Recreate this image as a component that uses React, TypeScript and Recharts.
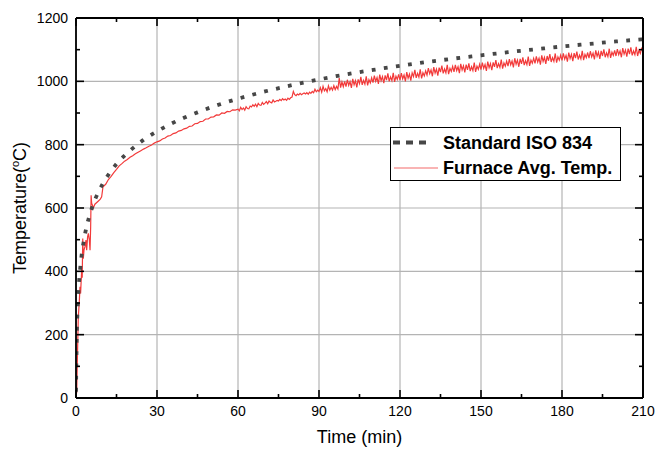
import React from 'react';
import { LineChart, Line, XAxis, YAxis, CartesianGrid, Legend, ReferenceLine } from 'recharts';

// ---- data ----
const xDomain = [0, 210];
const yDomain = [0, 1200];
const xMajorTicks = [0, 30, 60, 90, 120, 150, 180, 210];
const xAllTicks = [0, 15, 30, 45, 60, 75, 90, 105, 120, 135, 150, 165, 180, 195, 210];
const yMajorTicks = [0, 200, 400, 600, 800, 1000, 1200];
const yAllTicks = [0, 100, 200, 300, 400, 500, 600, 700, 800, 900, 1000, 1100, 1200];

// Standard ISO 834 curve
const isoTimes = [0, 0.25, 0.5, 1, 1.5, 2, 3, 4, 5, 6, 7, 8, 10, 12, 15, 20, 25, 30, 35, 40, 45, 50, 60, 70, 80, 90, 100, 110, 120, 130, 140, 150, 160, 170, 180, 190, 200, 210];
const isoTemps = [20, 185, 261, 349, 404, 445, 502, 544, 576, 603, 626, 645, 678, 705, 739, 781, 815, 842, 865, 885, 902, 918, 945, 968, 988, 1006, 1022, 1036, 1049, 1061, 1072, 1082, 1092, 1101, 1110, 1118, 1126, 1133];

// Furnace average temperature: first minutes (irregular samples)
const furnaceEarlyTimes = [0, 0.25, 0.5, 0.86, 1.2, 1.48, 1.7, 2.1, 2.3, 2.5, 2.7, 2.96, 3.33, 3.7, 3.95, 4.3, 4.57, 4.94, 5.2, 5.43, 5.6, 5.8, 6.05, 6.4, 7.0, 8.3, 9.0, 9.5];
const furnaceEarlyTemps = [20, 15, 120, 257, 300, 351, 330, 404, 380, 504, 440, 467, 478, 499, 467, 509, 520, 499, 467, 541, 640, 615, 610, 600, 612, 622, 628, 635];
// 10 .. 59 min, one sample per minute
const furnaceMidStart = 10;
const furnaceMidStep = 1;
const furnaceMidTemps = [
  667, 675, 690, 700, 712, 722, 733, 740, 748, 753,
  760, 765, 771, 776, 781, 786, 790, 795, 799, 805,
  809, 812, 818, 821, 827, 829, 835, 837, 843, 845,
  850, 852, 858, 859, 866, 867, 873, 874, 881, 881,
  887, 888, 894, 893, 900, 899, 905, 904, 910, 909,
];
// 60 .. 210 min, one sample every half minute
const furnaceLateStart = 60;
const furnaceLateStep = 0.5;
const furnaceLateTemps = [
  912, 907, 918, 911, 916, 909, 920, 914, 913, 922,
  919, 926, 921, 928, 920, 930, 925, 924, 933, 927,
  931, 936, 929, 938, 934, 932, 941, 935, 937, 940,
  938, 943, 939, 945, 941, 944, 940, 947, 943, 948,
  950, 968, 958, 955, 960, 957, 962, 958, 961, 963,
  960, 964, 959, 966, 962, 968, 964, 975, 967, 972,
  968, 980, 966, 984, 970, 977, 967, 986, 972, 981,
  972, 986, 974, 984, 976, 1010, 980, 998, 983, 1000,
  983, 1005, 987, 999, 979, 1008, 989, 1002, 981, 1006,
  993, 1014, 989, 1003, 991, 1016, 987, 1005, 995, 1011,
  996, 1018, 1000, 1012, 992, 1021, 1002, 1015, 994, 1019,
  1004, 1025, 1000, 1014, 1002, 1027, 998, 1016, 1006, 1022,
  1004, 1026, 1008, 1020, 1000, 1029, 1010, 1023, 1002, 1027,
  1015, 1036, 1011, 1025, 1013, 1038, 1009, 1027, 1017, 1033,
  1020, 1042, 1024, 1036, 1016, 1045, 1026, 1039, 1018, 1043,
  1029, 1050, 1025, 1039, 1027, 1052, 1023, 1041, 1031, 1047,
  1030, 1052, 1034, 1046, 1026, 1055, 1036, 1049, 1028, 1053,
  1036, 1057, 1032, 1046, 1034, 1059, 1030, 1048, 1038, 1054,
  1037, 1059, 1041, 1053, 1033, 1062, 1043, 1056, 1035, 1060,
  1046, 1067, 1042, 1056, 1044, 1069, 1040, 1058, 1048, 1064,
  1048, 1070, 1052, 1064, 1044, 1073, 1054, 1067, 1046, 1071,
  1055, 1076, 1051, 1065, 1053, 1078, 1049, 1067, 1057, 1073,
  1057, 1079, 1061, 1073, 1053, 1082, 1063, 1076, 1055, 1080,
  1065, 1086, 1061, 1075, 1063, 1088, 1059, 1077, 1067, 1083,
  1066, 1088, 1070, 1082, 1062, 1091, 1072, 1085, 1064, 1089,
  1073, 1094, 1069, 1083, 1071, 1096, 1067, 1085, 1075, 1091,
  1073, 1095, 1077, 1089, 1069, 1098, 1079, 1092, 1071, 1096,
  1080, 1101, 1076, 1090, 1078, 1103, 1074, 1092, 1082, 1098,
  1080, 1102, 1084, 1096, 1076, 1105, 1086, 1099, 1078, 1103,
  1086, 1107, 1082, 1096, 1084, 1109, 1080, 1098, 1088, 1104,
  1098,
];

const seriesNames = ['Standard ISO 834', 'Furnace Avg. Temp.'];

const isoData = isoTimes.map((t, i) => ({ t, v: isoTemps[i] }));
const furnaceData = [
  ...furnaceEarlyTimes.map((t, i) => ({ t, v: furnaceEarlyTemps[i] })),
  ...furnaceMidTemps.map((v, i) => ({ t: furnaceMidStart + i * furnaceMidStep, v })),
  ...furnaceLateTemps.map((v, i) => ({ t: furnaceLateStart + i * furnaceLateStep, v })),
];

// ---- layout ----
const CHART_W = 657;
const CHART_H = 455;
const MARGIN = { top: 18, right: 14, bottom: 0, left: 0 };
const Y_AXIS_W = 76;
const X_AXIS_H = 57;
const PLOT_LEFT = MARGIN.left + Y_AXIS_W;
const PLOT_TOP = MARGIN.top;
const PLOT_W = CHART_W - MARGIN.right - PLOT_LEFT;
const PLOT_H = CHART_H - MARGIN.bottom - X_AXIS_H - PLOT_TOP;

const FONT = '"Liberation Sans", Arial, sans-serif';
const ISO_COLOR = '#474747';
const RED = '#f23a3a';
const FRAME_W = 1.8;

const isMajorX = (v: number) => v % 30 === 0;
const isMajorY = (v: number) => v % 200 === 0;

const BottomTick = (p: any) => {
  const { x, y, payload } = p;
  const major = isMajorX(payload.value);
  return (
    <g>
      <line x1={x} x2={x} y1={y} y2={y - (major ? 8 : 4)} stroke="#000" strokeWidth={1.6} />
      {major && (
        <text x={x} y={y + 8} dy="0.71em" textAnchor="middle" fontSize={14} fontFamily={FONT} fill="#000">
          {payload.value}
        </text>
      )}
    </g>
  );
};
const LeftTick = (p: any) => {
  const { x, y, payload } = p;
  const major = isMajorY(payload.value);
  return (
    <g>
      <line x1={x} x2={x + (major ? 8 : 4)} y1={y} y2={y} stroke="#000" strokeWidth={1.6} />
      {major && (
        <text x={x - 8} y={y} dy="0.355em" textAnchor="end" fontSize={14} fontFamily={FONT} fill="#000">
          {payload.value}
        </text>
      )}
    </g>
  );
};

// top + right frame with inward ticks, drawn over the plot box
const FrameOverlay = () => {
  const top = PLOT_TOP;
  const left = PLOT_LEFT;
  const right = PLOT_LEFT + PLOT_W;
  const bottom = PLOT_TOP + PLOT_H;
  return (
    <svg
      width={CHART_W}
      height={CHART_H}
      style={{ position: 'absolute', left: 0, top: 0, pointerEvents: 'none' }}
    >
      <line x1={left} x2={right} y1={top} y2={top} stroke="#000" strokeWidth={FRAME_W} />
      <line x1={right} x2={right} y1={top} y2={bottom} stroke="#000" strokeWidth={FRAME_W} />
      {xAllTicks.map((v) => {
        const x = left + ((v - xDomain[0]) / (xDomain[1] - xDomain[0])) * PLOT_W;
        return <line key={'t' + v} x1={x} x2={x} y1={top} y2={top + (isMajorX(v) ? 8 : 4)} stroke="#000" strokeWidth={1.6} />;
      })}
      {yAllTicks.map((v) => {
        const y = bottom - ((v - yDomain[0]) / (yDomain[1] - yDomain[0])) * PLOT_H;
        return <line key={'r' + v} x1={right} x2={right - (isMajorY(v) ? 8 : 4)} y1={y} y2={y} stroke="#000" strokeWidth={1.6} />;
      })}
    </svg>
  );
};

const LegendBox = () => (
  <div style={{ width: 231, height: 54, background: '#fff', border: '1px solid #000', boxSizing: 'border-box' }}>
    <svg width={229} height={52} style={{ display: 'block' }}>
      <line x1={2} x2={41} y1={14.5} y2={14.5} stroke={ISO_COLOR} strokeWidth={4} strokeDasharray="7 6" />
      <text x={52} y={14.5} dy="0.36em" fontSize={18} fontWeight="bold" fontFamily={FONT} fill="#000">
        {seriesNames[0]}
      </text>
      <line x1={3} x2={47} y1={40} y2={40} stroke="#f46a6a" strokeWidth={1.2} />
      <text x={52} y={40} dy="0.36em" fontSize={18} fontWeight="bold" fontFamily={FONT} fill="#000">
        {seriesNames[1]}
      </text>
    </svg>
  </div>
);

export default function App() {
  return (
    <div style={{ position: 'absolute', left: 0, top: 0, width: CHART_W, height: CHART_H, background: '#fff' }}>
      <LineChart width={CHART_W} height={CHART_H} margin={MARGIN}>
        <CartesianGrid
          xAxisId="b"
          yAxisId="l"
          verticalValues={xMajorTicks}
          horizontalValues={yMajorTicks}
          stroke="#b4b4b4"
          strokeWidth={1.2}
        />
        <XAxis
          xAxisId="b"
          dataKey="t"
          type="number"
          orientation="bottom"
          domain={xDomain}
          allowDataOverflow
          ticks={xAllTicks}
          interval={0}
          tickSize={0}
          tickMargin={0}
          tickLine={false}
          tick={BottomTick}
          height={X_AXIS_H}
          axisLine={{ stroke: '#000', strokeWidth: FRAME_W }}
          label={{
            content: (lp: any) => {
              const vb = lp.viewBox || {};
              return (
                <text x={vb.x + vb.width / 2} y={443} textAnchor="middle" fontSize={18} fontFamily={FONT} fill="#000">
                  Time (min)
                </text>
              );
            },
          }}
        />
        <YAxis
          yAxisId="l"
          type="number"
          orientation="left"
          domain={yDomain}
          allowDataOverflow
          ticks={yAllTicks}
          interval={0}
          tickSize={0}
          tickMargin={0}
          tickLine={false}
          tick={LeftTick}
          width={Y_AXIS_W}
          axisLine={{ stroke: '#000', strokeWidth: FRAME_W }}
          label={{
            content: (lp: any) => {
              const vb = lp.viewBox || {};
              const cy = vb.y + vb.height / 2;
              return (
                <text
                  x={20}
                  y={cy}
                  transform={`rotate(-90 20 ${cy})`}
                  textAnchor="middle"
                  dy="0.36em"
                  fontSize={18}
                  fontFamily={FONT}
                  fill="#000"
                >
                  Temperature(
                  <tspan fontSize={11} dy="-7">o</tspan>
                  <tspan dy="7">C)</tspan>
                </text>
              );
            },
          }}
        />
        <ReferenceLine xAxisId="b" yAxisId="l" y={yDomain[1]} ifOverflow="visible" stroke="#000" strokeWidth={FRAME_W} />
        <ReferenceLine xAxisId="b" yAxisId="l" x={xDomain[1]} ifOverflow="visible" stroke="#000" strokeWidth={FRAME_W} />
        <Line
          xAxisId="b"
          yAxisId="l"
          data={furnaceData}
          dataKey="v"
          name={seriesNames[1]}
          type="linear"
          stroke={RED}
          strokeWidth={1.2}
          dot={false}
          activeDot={false}
          isAnimationActive={false}
        />
        <Line
          xAxisId="b"
          yAxisId="l"
          data={isoData}
          dataKey="v"
          name={seriesNames[0]}
          type="monotone"
          stroke={ISO_COLOR}
          strokeWidth={3.8}
          strokeDasharray="3.8 8.4"
          dot={false}
          activeDot={false}
          isAnimationActive={false}
        />
        <Legend
          verticalAlign="middle"
          layout="horizontal"
          align="center"
          wrapperStyle={{ left: 390, top: 127, width: 231, height: 54 }}
          content={() => <LegendBox />}
        />
      </LineChart>
      <FrameOverlay />
    </div>
  );
}
